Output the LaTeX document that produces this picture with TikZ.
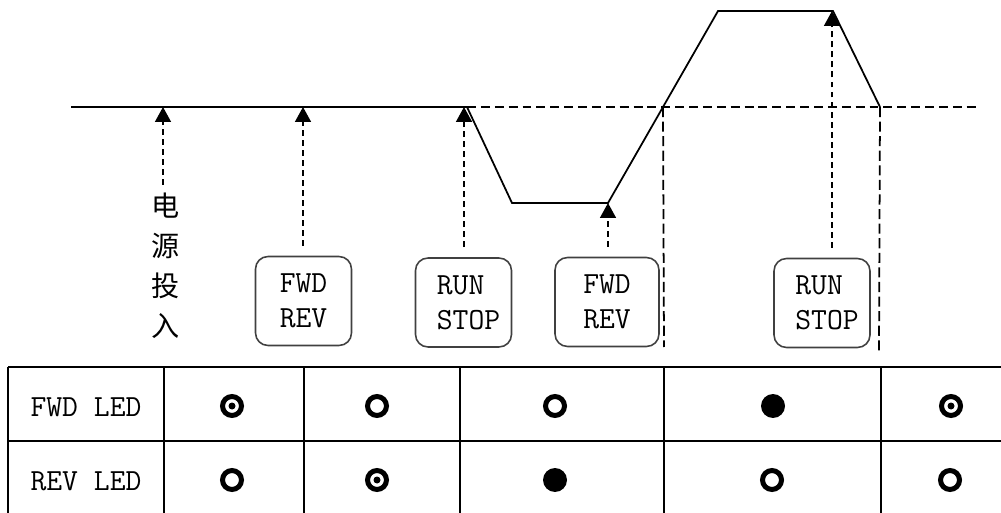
\documentclass[tikz,border=0pt]{standalone}
\usepackage{fontspec}
\newfontfamily\cjk{Noto Sans CJK SC}
\usetikzlibrary{arrows.meta, calc}

\begin{document}
\begin{tikzpicture}[x=0.02cm, y=-0.02cm,
        wave/.style={draw, line width=1pt},
        guide/.style={draw, line width=0.9pt, dash pattern=on 5.1pt off 2.8pt},
        longdash/.style={draw, line width=1pt, dash pattern=on 5.7pt off 2.6pt},
        trig/.style={draw, line width=0.9pt, dash pattern=on 3.4pt off 2.3pt, shorten <=0.2cm, -{Triangle[width=0.32cm, length=0.3cm]}},
        keybox/.style={rectangle, draw=black!75, line width=0.9pt, rounded corners=0.25cm, minimum width=1.92cm, minimum height=1.78cm, inner sep=0pt, align=left, font=\ttfamily\fontsize{17.5}{20}\selectfont},
        grid/.style={draw, line width=1pt},
        rowlabel/.style={font=\ttfamily\fontsize{17.5}{20}\selectfont},
        ledoff/.style={circle, draw, line width=0.1cm, inner sep=0pt, minimum size=0.38cm},
        ledon/.style={circle, fill=black, inner sep=0pt, minimum size=0.48cm},
        ledblink/.style={ledoff, path picture={\fill (path picture bounding box.center) circle (0.07cm);}}]

        \useasboundingbox (0,0) rectangle (1001,513);

        % Waveform
        \coordinate (w0) at (71,107);
        \coordinate (w1) at (467,107);
        \coordinate (w2) at (512,203);
        \coordinate (w3) at (608,203);
        \coordinate (w4) at (663,107);
        \coordinate (w5) at (718,11);
        \coordinate (w6) at (833,11);
        \coordinate (w7) at (880,107);
        \coordinate (wend) at (978,107);
        \path [wave] (w0) -- (w1) -- (w2) -- (w3) -- (w5) -- (w6) -- (w7);
        \path [guide] (w1) -- (wend);

        % Direction change marks
        \coordinate (d1) at (664,347);
        \coordinate (d2) at (879,352);
        \path [longdash] (w4) -- (d1);
        \path [longdash] (w7) -- (d2);

        % Trigger points
        \coordinate (t1) at (163,107);
        \coordinate (t2) at (303,107);
        \coordinate (t3) at (464,107);
        \coordinate (t5) at (832,11);
        \coordinate (s1) at (163,185);

        % Power on label and keys
        \node [font=\cjk\fontsize{16}{22.7}\selectfont, align=center] (pwr) at (166,266) {电\\源\\投\\入};
        \node [keybox] (fr1) at (303.5,301) {FWD\\REV};
        \node [keybox] (rs1) at (463.5,302.5) {\hspace*{0.2cm}RUN\\\hspace*{0.2cm}STOP};
        \node [keybox, minimum width=2.08cm] (fr2) at (607,302) {FWD\\REV};
        \node [keybox] (rs2) at (822,303) {\hspace*{0.2cm}RUN\\\hspace*{0.2cm}STOP};

        % Connections
        \path [trig, shorten <=0pt] (s1) -- (t1);
        \path [trig] (fr1.north -| t2) -- (t2);
        \path [trig] (rs1.north -| t3) -- (t3);
        \path [trig] (fr2.north -| w3) -- (w3);
        \path [trig] (rs2.north -| t5) -- (t5);

        % LED table
        \path [grid] (8,367) -- (1001,367) (8,441) -- (1001,441);
        \path [grid] (8,367) -- (8,513) (164,367) -- (164,513) (304,367) -- (304,513)
            (460,367) -- (460,513) (664,367) -- (664,513) (881,367) -- (881,513);

        \node [rowlabel] (fwdled) at (86,407) {FWD LED};
        \node [rowlabel] (revled) at (86,481) {REV LED};

        \node [ledblink] (f1) at (232,406) {};
        \node [ledoff] (f2) at (377,406) {};
        \node [ledoff] (f3) at (555,406) {};
        \node [ledon] (f4) at (773,406) {};
        \node [ledblink] (f5) at (951,406) {};

        \node [ledoff] (r1) at (232,480) {};
        \node [ledblink] (r2) at (377,480) {};
        \node [ledon] (r3) at (555,480) {};
        \node [ledoff] (r4) at (772,480) {};
        \node [ledoff] (r5) at (950,480) {};

    \end{tikzpicture}
\end{document}
